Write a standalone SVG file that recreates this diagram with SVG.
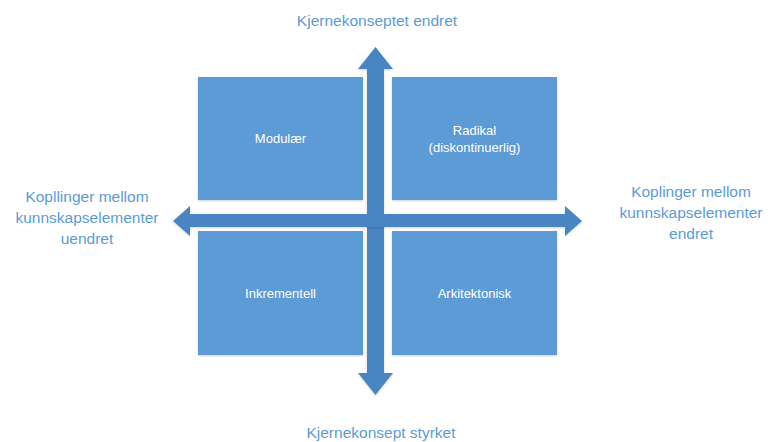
<svg xmlns="http://www.w3.org/2000/svg" width="768" height="442" viewBox="0 0 768 442">
  <style>
    .box { fill: #5B9BD5; filter: url(#soft); }
    .box-text { font-family: "Liberation Sans", Arial, sans-serif; font-size: 13px; fill: #ffffff; text-anchor: middle; }
    .axis { fill: #4A85C2; filter: url(#soft); }
    .label { font-family: "Liberation Sans", Arial, sans-serif; font-size: 15.5px; fill: #5B9BD5; text-anchor: middle; }
  </style>
  <defs>
    <filter id="soft" x="-10%" y="-10%" width="120%" height="120%">
      <feDropShadow dx="0" dy="1" stdDeviation="1" flood-color="#000000" flood-opacity="0.18"/>
    </filter>
  </defs>
  <rect width="768" height="442" fill="#ffffff"/>

  <!-- quadrants -->
  <g id="modular">
    <rect class="box" x="198" y="77" width="165" height="123"/>
    <text class="box-text" x="280.5" y="143">Modulær</text>
  </g>
  <g id="radikal">
    <rect class="box" x="392" y="77" width="165" height="123"/>
    <text class="box-text" x="474.5" y="135">Radikal</text>
    <text class="box-text" x="474.5" y="152">(diskontinuerlig)</text>
  </g>
  <g id="inkrementell">
    <rect class="box" x="198" y="231" width="165" height="124"/>
    <text class="box-text" x="280.5" y="298">Inkrementell</text>
  </g>
  <g id="arkitektonisk">
    <rect class="box" x="392" y="231" width="165" height="124"/>
    <text class="box-text" x="474.5" y="298">Arkitektonisk</text>
  </g>

  <!-- double-headed axes -->
  <g id="connectors">
    <polygon class="axis" points="375.5,47 393,69 384,69 384,373 393,373 375.5,395 358,373 367,373 367,69 358,69"/>
    <polygon class="axis" points="173,221 190,206 190,214 565,214 565,206 582,221 565,236 565,227 190,227 190,236"/>
  </g>

  <!-- axis labels -->
  <g id="top-label">
    <text class="label" x="377" y="26">Kjernekonseptet endret</text>
  </g>
  <g id="bottom-label">
    <text class="label" x="381" y="438">Kjernekonsept styrket</text>
  </g>
  <g id="left-label">
    <text class="label" x="87" y="202">Kopllinger mellom</text>
    <text class="label" x="87" y="223">kunnskapselementer</text>
    <text class="label" x="87" y="244">uendret</text>
  </g>
  <g id="right-label">
    <text class="label" x="691" y="197">Koplinger mellom</text>
    <text class="label" x="691" y="218">kunnskapselementer</text>
    <text class="label" x="691" y="239">endret</text>
  </g>
</svg>
